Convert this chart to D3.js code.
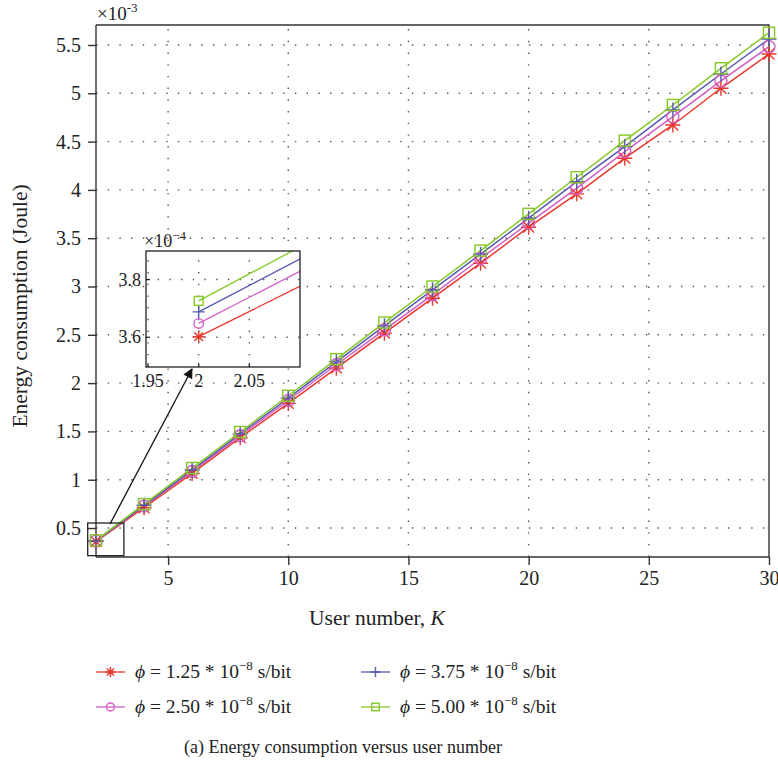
<!DOCTYPE html>
<html>
<head>
<meta charset="utf-8">
<script src="https://cdn.jsdelivr.net/npm/d3@7"></script>
<style>
  html, body { margin: 0; padding: 0; background: #fff; }
  svg { display: block; }
  text { font-family: "Liberation Serif", "DejaVu Serif", serif; fill: #222; }
</style>
</head>
<body>
<svg id="chart" width="778" height="762"></svg>
<script>
// User number K
const userNumbers = [2, 4, 6, 8, 10, 12, 14, 16, 18, 20, 22, 24, 26, 28, 30];
// Energy consumption, in units of 1e-3 J
const energyPhi125 = [0.3602, 0.710, 1.065, 1.435, 1.790, 2.155, 2.517, 2.879, 3.241, 3.614, 3.959, 4.328, 4.672, 5.052, 5.407];
const energyPhi250 = [0.3648, 0.727, 1.085, 1.455, 1.820, 2.190, 2.552, 2.914, 3.290, 3.656, 4.018, 4.397, 4.758, 5.128, 5.483];
const energyPhi375 = [0.3688, 0.735, 1.100, 1.475, 1.845, 2.220, 2.593, 2.966, 3.335, 3.707, 4.086, 4.448, 4.828, 5.200, 5.562];
const energyPhi500 = [0.3726, 0.747, 1.121, 1.494, 1.869, 2.248, 2.627, 3.000, 3.372, 3.752, 4.131, 4.510, 4.879, 5.259, 5.627];

const phiLabels = ["1.25", "2.50", "3.75", "5.00"];
const xTicks = [5, 10, 15, 20, 25, 30];
const yTicks = [0.5, 1, 1.5, 2, 2.5, 3, 3.5, 4, 4.5, 5, 5.5];
const insetXTicks = [1.95, 2, 2.05];
const insetYTicks = [3.6, 3.8];   // units of 1e-4 J

const series = [
  { name: "phi125", values: energyPhi125, color: "#e8372b", marker: "star", label: phiLabels[0] },
  { name: "phi250", values: energyPhi250, color: "#d35ec6", marker: "circle", label: phiLabels[1] },
  { name: "phi375", values: energyPhi375, color: "#5659b2", marker: "plus", label: phiLabels[2] },
  { name: "phi500", values: energyPhi500, color: "#84c825", marker: "square", label: phiLabels[3] }
];

const svg = d3.select("#chart");
const axisColor = "#333";
const gridStyle = g => g.attr("stroke", "#555").attr("stroke-width", 1.4)
  .attr("stroke-dasharray", "1.4,10.3").attr("fill", "none");

// ---------- main plot ----------
const plot = { left: 96, right: 769, top: 25, bottom: 557 };
const x = d3.scaleLinear().domain([2, 30]).range([plot.left, plot.right]);
const y = d3.scaleLinear().domain([0.2, 5.707]).range([plot.bottom, plot.top]);

// grid
const grid = svg.append("g");
grid.selectAll("line.v").data(xTicks.filter(d => d < 30)).join("line")
  .attr("x1", d => x(d)).attr("x2", d => x(d))
  .attr("y1", plot.bottom).attr("y2", plot.top).call(gridStyle);
grid.selectAll("line.h").data(yTicks).join("line")
  .attr("y1", d => y(d)).attr("y2", d => y(d))
  .attr("x1", plot.left).attr("x2", plot.right).call(gridStyle);

// frame (top & right)
svg.append("path")
  .attr("d", `M${plot.left},${plot.top}H${plot.right}V${plot.bottom}`)
  .attr("fill", "none").attr("stroke", axisColor).attr("stroke-width", 1.4);

// axes
const xAxis = svg.append("g").attr("transform", `translate(0,${plot.bottom})`)
  .call(d3.axisBottom(x).tickValues(xTicks).tickFormat(d3.format("d")).tickSize(8).tickPadding(6).tickSizeOuter(0));
const yAxis = svg.append("g").attr("transform", `translate(${plot.left},0)`)
  .call(d3.axisLeft(y).tickValues(yTicks).tickFormat(d => String(d)).tickSize(8).tickPadding(7).tickSizeOuter(0));
[xAxis, yAxis].forEach(a => {
  a.select(".domain").attr("stroke", axisColor).attr("stroke-width", 1.4);
  a.selectAll(".tick line").attr("stroke", axisColor).attr("stroke-width", 1.4);
  a.selectAll(".tick text").attr("font-size", 20).attr("font-family", "Liberation Serif").attr("fill", "#222");
});
yAxis.select(".domain").attr("d", `M0,${plot.bottom}V${plot.top}`);
xAxis.select(".domain").attr("d", `M${plot.left},0H${plot.right}`);

// exponent label
const expo = svg.append("text").attr("x", 97).attr("y", 20).attr("font-size", 19);
expo.append("tspan").text("×10");
expo.append("tspan").attr("font-size", 13).attr("dy", -8).text("-3");

// markers
function drawMarker(g, type, cx, cy, color, s) {
  const m = g.append("g").attr("transform", `translate(${cx},${cy})`)
    .attr("stroke", color).attr("stroke-width", 1.4).attr("fill", "none");
  if (type === "star") {
    const a = s, b = s * 0.72;
    m.append("path").attr("d", `M0,${-a}V${a}M${-a},0H${a}M${-b},${-b}L${b},${b}M${-b},${b}L${b},${-b}`);
  } else if (type === "circle") {
    m.append("circle").attr("r", s * 0.8);
  } else if (type === "plus") {
    m.append("path").attr("d", `M0,${-s}V${s}M${-s},0H${s}`);
  } else if (type === "square") {
    const h = s * 0.74;
    m.append("rect").attr("x", -h).attr("y", -h).attr("width", 2 * h).attr("height", 2 * h);
  }
}

const line = d3.line().x((d, i) => x(userNumbers[i])).y(d => y(d));
const linesG = svg.append("g");
series.forEach(s => {
  linesG.append("path").datum(s.values).attr("d", line)
    .attr("fill", "none").attr("stroke", s.color).attr("stroke-width", 1.5);
});
series.forEach(s => {
  s.values.forEach((v, i) => drawMarker(linesG, s.marker, x(userNumbers[i]), y(v), s.color, 7.5));
});

// zoom region rectangle
const zoomBox = { k0: 1.655, k1: 3.16, e0: 0.214, e1: 0.552 };
svg.append("rect")
  .attr("x", x(zoomBox.k0)).attr("y", y(zoomBox.e1))
  .attr("width", x(zoomBox.k1) - x(zoomBox.k0)).attr("height", y(zoomBox.e0) - y(zoomBox.e1))
  .attr("fill", "none").attr("stroke", "#222").attr("stroke-width", 1.3);

// ---------- inset ----------
const ins = { left: 146, right: 300, top: 251, bottom: 367 };
const xi = d3.scaleLinear().domain([1.948, 2.1]).range([ins.left, ins.right]);
const yi = d3.scaleLinear().domain([3.497, 3.899]).range([ins.bottom, ins.top]);
const inset = svg.append("g");
inset.append("rect").attr("x", ins.left).attr("y", ins.top)
  .attr("width", ins.right - ins.left).attr("height", ins.bottom - ins.top).attr("fill", "#fff");
inset.selectAll("line.v").data(insetXTicks).join("line")
  .attr("x1", d => xi(d)).attr("x2", d => xi(d)).attr("y1", ins.bottom).attr("y2", ins.top).call(gridStyle);
inset.selectAll("line.h").data(insetYTicks).join("line")
  .attr("y1", d => yi(d)).attr("y2", d => yi(d)).attr("x1", ins.left).attr("x2", ins.right).call(gridStyle);

svg.append("clipPath").attr("id", "insetClip").append("rect")
  .attr("x", ins.left).attr("y", ins.top).attr("width", ins.right - ins.left).attr("height", ins.bottom - ins.top);
const insetLines = inset.append("g").attr("clip-path", "url(#insetClip)");
// values rescaled to units of 1e-4 J
const lineI = d3.line().x((d, i) => xi(userNumbers[i])).y(d => yi(d * 10));
series.forEach(s => {
  insetLines.append("path").datum(s.values.slice(0, 2)).attr("d", lineI)
    .attr("fill", "none").attr("stroke", s.color).attr("stroke-width", 1.3);
});
series.forEach(s => drawMarker(insetLines, s.marker, xi(userNumbers[0]), yi(s.values[0] * 10), s.color, 6));

inset.append("rect").attr("x", ins.left).attr("y", ins.top)
  .attr("width", ins.right - ins.left).attr("height", ins.bottom - ins.top)
  .attr("fill", "none").attr("stroke", "#222").attr("stroke-width", 1.3);
// inner ticks
inset.selectAll("line.tx").data(insetXTicks).join("line")
  .attr("x1", d => xi(d)).attr("x2", d => xi(d)).attr("y1", ins.bottom).attr("y2", ins.bottom - 4)
  .attr("stroke", "#222").attr("stroke-width", 1.2);
inset.selectAll("line.ty").data(insetYTicks).join("line")
  .attr("y1", d => yi(d)).attr("y2", d => yi(d)).attr("x1", ins.left).attr("x2", ins.left + 4)
  .attr("stroke", "#222").attr("stroke-width", 1.2);
inset.selectAll("text.tx").data(insetXTicks).join("text")
  .attr("x", d => xi(d)).attr("y", ins.bottom + 20).attr("text-anchor", "middle")
  .attr("font-size", 18).text(d => String(d));
inset.selectAll("text.ty").data(insetYTicks).join("text")
  .attr("x", ins.left - 5).attr("y", d => yi(d) + 6).attr("text-anchor", "end")
  .attr("font-size", 18).text(d => d.toFixed(1));
const expoI = inset.append("text").attr("x", ins.left - 2).attr("y", ins.top - 4).attr("font-size", 18);
expoI.append("tspan").text("×10");
expoI.append("tspan").attr("font-size", 13).attr("dy", -7).text("−4");

// arrow from the zoom box to the inset
svg.append("defs").append("marker").attr("id", "arrowHead")
  .attr("viewBox", "0 0 10 10").attr("refX", 9).attr("refY", 5)
  .attr("markerWidth", 14).attr("markerHeight", 10).attr("markerUnits", "userSpaceOnUse")
  .attr("orient", "auto")
  .append("path").attr("d", "M0,0L10,5L0,10z").attr("fill", "#111");
svg.append("line").attr("x1", 110).attr("y1", 524).attr("x2", 192).attr("y2", 369)
  .attr("stroke", "#111").attr("stroke-width", 1.3).attr("marker-end", "url(#arrowHead)");

// ---------- axis titles ----------
const xTitle = svg.append("text").attr("x", 377).attr("y", 625).attr("text-anchor", "middle").attr("font-size", 21.5);
xTitle.append("tspan").text("User number, ");
xTitle.append("tspan").attr("font-style", "italic").text("K");

svg.append("text").attr("transform", "translate(27,306) rotate(-90)")
  .attr("text-anchor", "middle").attr("font-size", 21.5).text("Energy consumption (Joule)");

// ---------- legend ----------
const legendPos = [
  { x: 96, y: 672 }, { x: 96, y: 707 }, { x: 361, y: 672 }, { x: 361, y: 707 }
];
series.forEach((s, i) => {
  const p = legendPos[i];
  const g = svg.append("g");
  g.append("line").attr("x1", p.x).attr("x2", p.x + 29).attr("y1", p.y).attr("y2", p.y)
    .attr("stroke", s.color).attr("stroke-width", 1.3);
  drawMarker(g, s.marker, p.x + 14.5, p.y, s.color, 5);
  const t = g.append("text").attr("x", p.x + 39).attr("y", p.y + 6).attr("font-size", 19.5);
  t.append("tspan").attr("font-style", "italic").text("ϕ");
  t.append("tspan").text(` = ${s.label} * 10`);
  t.append("tspan").attr("font-size", 13).attr("dy", -8).text("−8");
  t.append("tspan").attr("dy", 8).text(" s/bit");
});

// caption
svg.append("text").attr("x", 343).attr("y", 753).attr("text-anchor", "middle")
  .attr("font-size", 18).text("(a) Energy consumption versus user number");
</script>
</body>
</html>
